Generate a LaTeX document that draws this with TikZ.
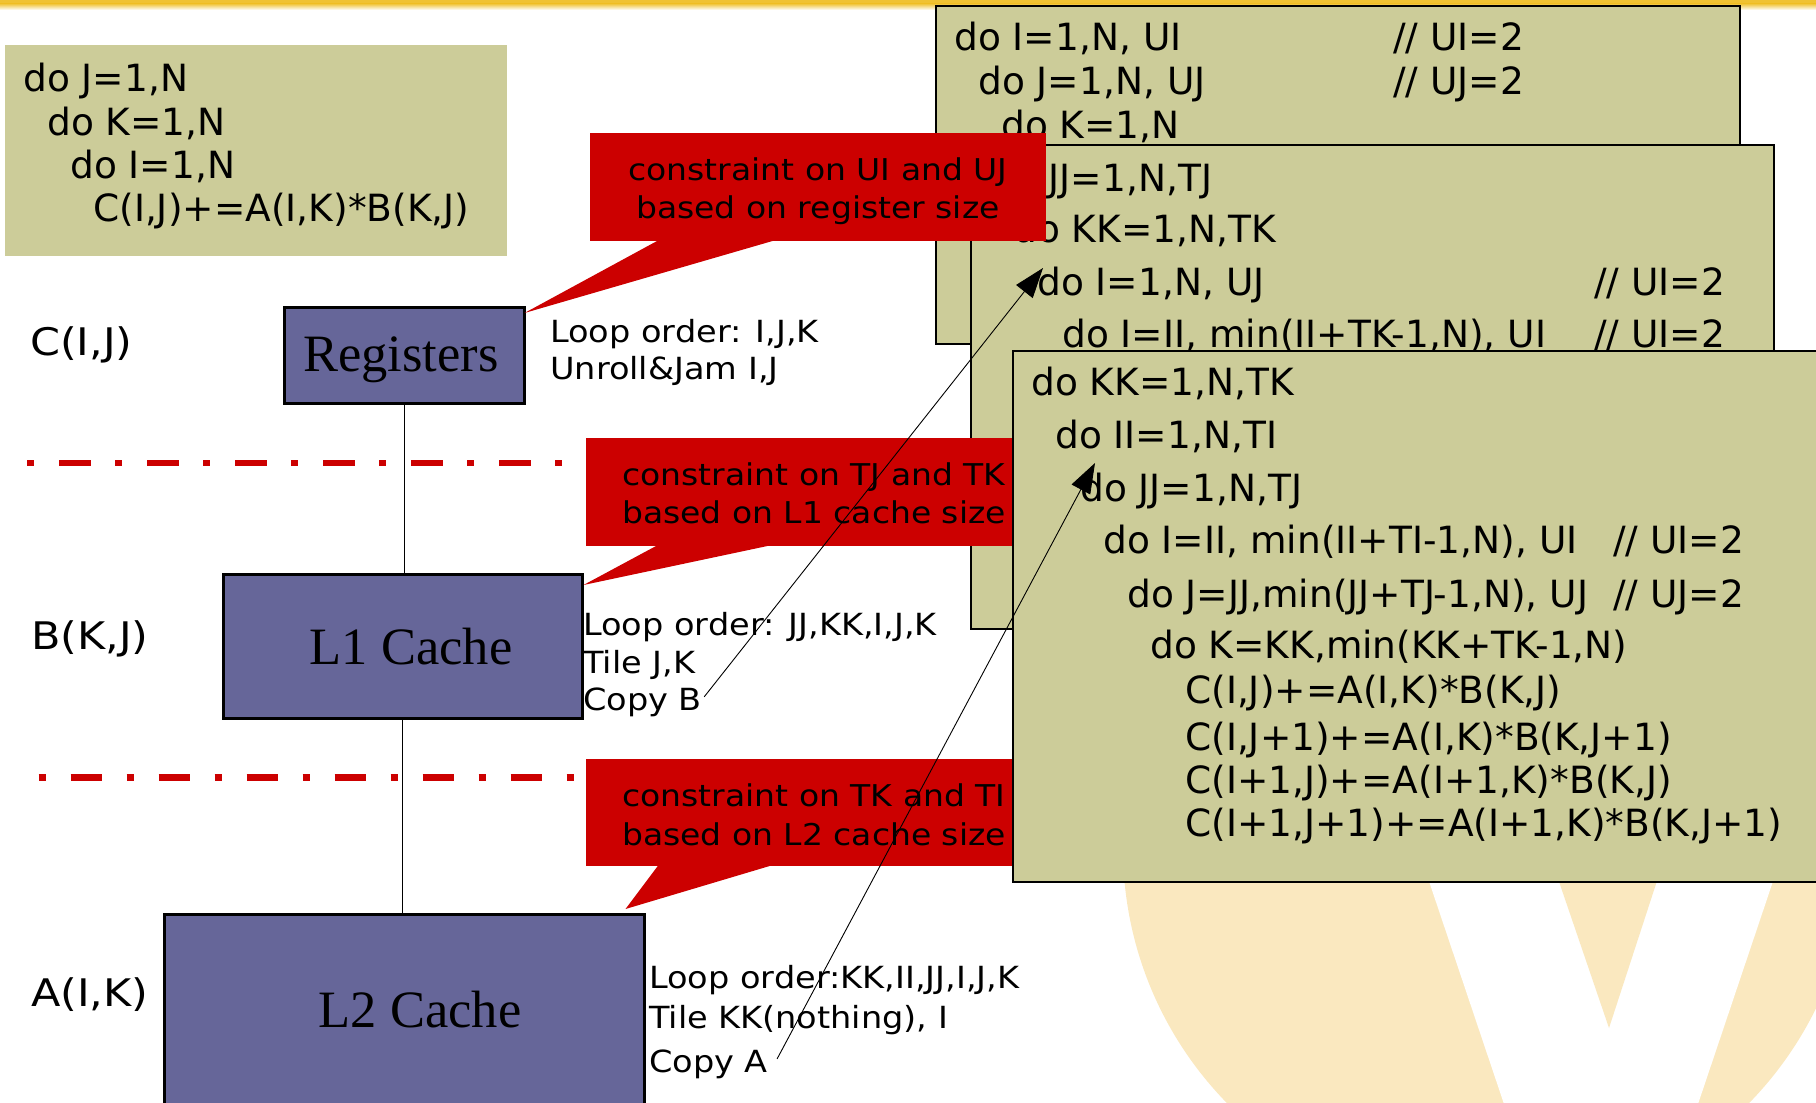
\documentclass[tikz,border=0pt]{standalone}
\usepackage{fontspec}
\setmainfont{DejaVu Sans}
\newfontfamily\vfont[FakeStretch=1.1]{DejaVu Sans}
\newfontfamily\wfont[FakeStretch=1.13]{DejaVu Sans}
\newfontfamily\tmsfont{Liberation Serif}
\usetikzlibrary{arrows.meta,calc}

\definecolor{boxolive}{HTML}{CCCC99}
\definecolor{boxpurple}{HTML}{666699}
\definecolor{callred}{HTML}{CC0000}
\definecolor{wmark}{HTML}{FAE8BF}
\definecolor{bargold}{HTML}{F0C232}

\newcommand\cdf{\fontsize{37.5}{44}\selectfont}
\newcommand\lbf{\vfont\fontsize{30.5}{36}\selectfont}
\newcommand\ctf{\vfont\fontsize{30}{36}\selectfont}
\newcommand\tagf{\wfont\fontsize{38}{44}\selectfont}
\newcommand\bigf{\tmsfont\fontsize{52.5}{60}\selectfont}

\tikzset{
  codebox/.style={fill=boxolive, draw=black, line width=2pt, inner sep=0, anchor=north west},
  plainbox/.style={fill=boxolive, draw=none, inner sep=0, anchor=north west},
  cl/.style={anchor=base west, inner sep=0, font=\cdf},
  lbl/.style={anchor=base west, inner sep=0, font=\lbf},
  tag/.style={anchor=base west, inner sep=0, font=\tagf},
  level/.style={fill=boxpurple, draw=black, line width=2.5pt, inner sep=0, anchor=north west},
  leveltxt/.style={anchor=base, inner sep=0, font=\bigf},
  callbox/.style={fill=callred, draw=none, inner sep=0, anchor=north west},
  calltxt/.style={anchor=base, inner sep=0, font=\ctf},
  boundary/.style={draw=callred, line width=6.3pt, dash pattern=on 7pt off 25pt on 31.5pt off 24.5pt},
  link/.style={draw=black, line width=1pt},
  pointer/.style={draw=black, line width=0.9pt, -{Triangle[length=30pt,width=21pt]}}
}

\begin{document}
\begin{tikzpicture}[x=1pt, y=-1pt]
\useasboundingbox (0,0) rectangle (1816,1103);
\clip (0,0) rectangle (1816,1103);

% header bar
\fill[bargold] (0,0) rectangle (1816,3.5);
\shade[top color=bargold, bottom color=white] (0,3.5) rectangle (1816,10);

% logo watermark
\fill[wmark] (1488,848) circle (365);
\fill[white] (1368,700) -- (1506,1110) -- (1696,1110) -- (1834,700) -- cycle;
\fill[wmark] (1497,700) -- (1609,1028) -- (1716,700) -- cycle;

% original loop nest
\node[plainbox, minimum width=502pt, minimum height=211pt] (orig) at (5,45) {};
\node[cl] (o1) at (23,91) {do J=1,N};
\node[cl] (o2) at (47,135) {do K=1,N};
\node[cl] (o3) at (70,178) {do I=1,N};
\node[cl] (o4) at (93,221) {C(I,J)+=A(I,K)*B(K,J)};

% unroll-and-jam version
\node[codebox, minimum width=804pt, minimum height=338pt] (uj) at (935,5) {};
\node[cl] (u1) at (954,50) {do I=1,N, UI};
\node[cl] (u2) at (978,94) {do J=1,N, UJ};
\node[cl] (u3) at (1001,138) {do K=1,N};
\node[cl] (u1c) at (1393,50) {// UI=2};
\node[cl] (u2c) at (1393,94) {// UJ=2};

% L1 tiled version
\node[codebox, minimum width=803pt, minimum height=484pt] (tl) at (970,144) {};
\node[cl] (t1) at (990,191) {do JJ=1,N,TJ};
\node[cl] (t2) at (1013,242) {do KK=1,N,TK};
\node[cl] (t3) at (1037,295) {do I=1,N, UJ};
\node[cl] (t4) at (1062,347) {do I=II, min(II+TK-1,N), UI};
\node[cl] (t3c) at (1594,295) {// UI=2};
\node[cl] (t4c) at (1594,347) {// UI=2};

% constraint callouts
\node[callbox, minimum width=456pt, minimum height=108pt] (c1) at (590,133) {};
\node[callbox, minimum width=456pt, minimum height=108pt] (c2) at (586,438) {};
\node[callbox, minimum width=456pt, minimum height=107pt] (c3) at (586,759) {};

% L2 tiled version
\node[codebox, minimum width=818pt, minimum height=531pt] (tt) at (1012,350) {};
\node[cl] (s1) at (1031,395) {do KK=1,N,TK};
\node[cl] (s2) at (1055,448) {do II=1,N,TI};
\node[cl] (s3) at (1080,501) {do JJ=1,N,TJ};
\node[cl] (s4) at (1103,553) {do I=II, min(II+TI-1,N), UI};
\node[cl] (s5) at (1127,607) {do J=JJ,min(JJ+TJ-1,N), UJ};
\node[cl] (s6) at (1150,658) {do K=KK,min(KK+TK-1,N)};
\node[cl] (s7) at (1185,703) {C(I,J)+=A(I,K)*B(K,J)};
\node[cl] (s8) at (1185,750) {C(I,J+1)+=A(I,K)*B(K,J+1)};
\node[cl] (s9) at (1185,793) {C(I+1,J)+=A(I+1,K)*B(K,J)};
\node[cl] (s10) at (1185,836) {C(I+1,J+1)+=A(I+1,K)*B(K,J+1)};
\node[cl] (s4c) at (1613,553) {// UI=2};
\node[cl] (s5c) at (1613,607) {// UJ=2};

% memory hierarchy
\node[level, minimum width=240pt, minimum height=96pt] (reg) at (283,306) {};
\node[level, minimum width=359pt, minimum height=144pt] (l1) at (222,573) {};
\node[level, minimum width=480pt, minimum height=220pt] (l2) at (163,913) {};
\node[leveltxt] (regt) at (401,371) {Registers};
\node[leveltxt] (l1t) at (411,664) {L1 Cache};
\node[leveltxt] (l2t) at (420,1027) {L2 Cache};
\draw[link] (reg.south) -- (reg.south |- l1.north);
\draw[link] (l1.south) -- (l1.south |- l2.north);

% callout pointers and texts
\fill[callred] ($(c1.south west)+(70,-2)$) -- ($(reg.north east)+(-1,7)$) -- ($(c1.south west)+(188,-2)$) -- cycle;
\fill[callred] ($(c2.south west)+(73,-2)$) -- ($(l1.north east)+(0,12)$) -- ($(c2.south west)+(189,-2)$) -- cycle;
\fill[callred] ($(c3.south west)+(73,-2)$) -- ($(l2.north east)+(-20,-4)$) -- ($(c3.south west)+(189,-2)$) -- cycle;
\node[calltxt] (c1a) at (818,180) {constraint on UI and UJ};
\node[calltxt] (c1b) at (818,218) {based on register size};
\node[calltxt] (c2a) at (814,485) {constraint on TJ and TK};
\node[calltxt] (c2b) at (814,523) {based on L1 cache size};
\node[calltxt] (c3a) at (814,806) {constraint on TK and TI};
\node[calltxt] (c3b) at (814,845) {based on L2 cache size};

% level boundaries
\coordinate (d1a) at (27,463);
\coordinate (d1b) at (562,463);
\coordinate (d2a) at (38.5,777.5);
\coordinate (d2b) at (575,777.5);
\draw[boundary] (d1a) -- (d1b);
\draw[boundary] (d2a) -- (d2b);

% array labels
\node[tag] (cij) at (30,355) {C(I,J)};
\node[tag] (bkj) at (31,649) {B(K,J)};
\node[tag] (aik) at (31,1006) {A(I,K)};

% transformation notes
\node[lbl] (r1) at (550,342) {Loop order: I,J,K};
\node[lbl] (r2) at (550,379) {Unroll\&Jam I,J};
\node[lbl] (m1) at (583,635) {Loop order: JJ,KK,I,J,K};
\node[lbl] (m2) at (583,673) {Tile J,K};
\node[lbl] (copyb) at (583,710) {Copy B};
\node[lbl] (n1) at (649,988) {Loop order:KK,II,JJ,I,J,K};
\node[lbl] (n2) at (649,1028) {Tile KK(nothing), I};
\node[lbl] (copya) at (649,1072) {Copy A};

% pointers into the code
\coordinate (tipB) at (1043,268);
\coordinate (tipA) at (1095,463);
\draw[pointer] ($(copyb.east)+(2,-5)$) -- (tipB);
\draw[pointer] ($(copya.east)+(9,-5)$) -- (tipA);
\end{tikzpicture}
\end{document}
